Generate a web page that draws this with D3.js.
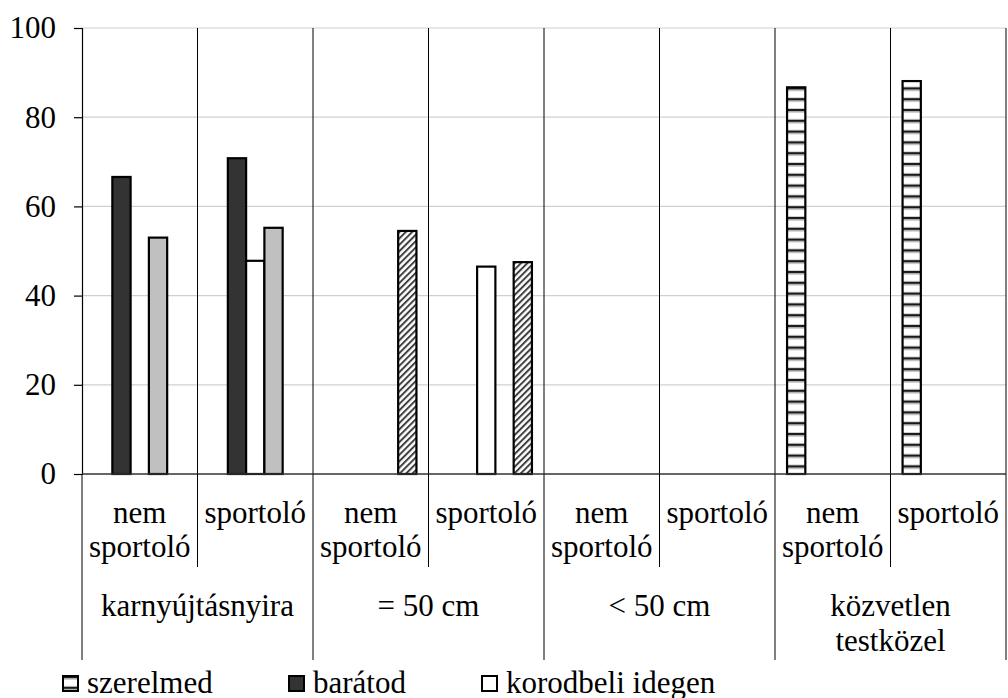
<!DOCTYPE html>
<html>
<head>
<meta charset="utf-8">
<script src="https://cdn.jsdelivr.net/npm/d3@7"></script>
<style>
  html, body { margin: 0; padding: 0; background: #fff; }
  svg { display: block; }
</style>
</head>
<body>
<svg id="chart" width="1008" height="698"></svg>
<script>
// ---- data ----
const groups = ["karnyújtásnyira", "= 50 cm", "< 50 cm", "közvetlen testközel"];
const subCategories = ["nem sportoló", "sportoló"];
const categories = ["c1", "c2", "c3", "c4", "c5", "c6", "c7", "c8"];
const categoryLabels = ["nem sportoló", "sportoló", "nem sportoló", "sportoló", "nem sportoló", "sportoló", "nem sportoló", "sportoló"];
const series = ["szerelmed", "barátod", "korodbeli idegen", "s4", "s5"];
const legendSeries = ["szerelmed", "barátod", "korodbeli idegen"];
const szerelmed = [null, null, null, null, null, null, 86.7, 88.1];
const baratod = [66.6, 70.8, null, null, null, null, null, null];
const korodbeli = [null, 47.8, null, 46.5, null, null, null, null];
const s4 = [53.0, 55.2, null, null, null, null, null, null];
const s5 = [null, null, 54.5, 47.5, null, null, null, null];
const seriesValues = [szerelmed, baratod, korodbeli, s4, s5];
const yTicks = [0, 20, 40, 60, 80, 100];

// ---- layout ----
const svg = d3.select("#chart");
const plotLeft = 82, plotRight = 1006, plotTop = 28, plotBottom = 474;
const FONT = 31;
const FAMILY = "Liberation Serif";

const x = d3.scaleBand().domain(categories).range([plotLeft, plotRight]).padding(0);
const xGroup = d3.scaleBand().domain(groups).range([plotLeft, plotRight]).padding(0);
const xInner = d3.scaleBand().domain(series).range([0, x.bandwidth()]).paddingInner(0).paddingOuter(0.66);
const y = d3.scaleLinear().domain([0, 100]).range([plotBottom, plotTop]);

// ---- patterns ----
const defs = svg.append("defs");
const pStripe = defs.append("pattern").attr("id", "stripe")
  .attr("patternUnits", "userSpaceOnUse").attr("width", 10).attr("height", 10.8)
  .attr("y", 1);
pStripe.append("rect").attr("width", 10).attr("height", 10.8).attr("fill", "#fff");
pStripe.append("rect").attr("y", 0).attr("width", 10).attr("height", 2).attr("fill", "#1a1a1a");
pStripe.append("rect").attr("y", 2).attr("width", 10).attr("height", 1.5).attr("fill", "#a8a8a8");
pStripe.append("rect").attr("y", 9.8).attr("width", 10).attr("height", 1).attr("fill", "#d0d0d0");

const pHatch = defs.append("pattern").attr("id", "hatch")
  .attr("patternUnits", "userSpaceOnUse").attr("width", 4.5).attr("height", 4.5)
  .attr("patternTransform", "rotate(45)");
pHatch.append("rect").attr("width", 4.5).attr("height", 4.5).attr("fill", "#fff");
pHatch.append("rect").attr("x", 0).attr("width", 2).attr("height", 4.5).attr("fill", "#404040");

const fills = {
  "szerelmed": "url(#stripe)",
  "barátod": "#333333",
  "korodbeli idegen": "#ffffff",
  "s4": "#c0c0c0",
  "s5": "url(#hatch)"
};

// ---- gridlines ----
svg.append("g").selectAll("line").data(yTicks.filter(d => d > 0)).join("line")
  .attr("x1", plotLeft).attr("x2", plotRight)
  .attr("y1", d => y(d)).attr("y2", d => y(d))
  .attr("stroke", "#d0d0d0").attr("stroke-width", 1.2);

// vertical category lines in plot area
svg.append("g").selectAll("line").data(categories).join("line")
  .attr("x1", d => x(d) + x.bandwidth()).attr("x2", d => x(d) + x.bandwidth())
  .attr("y1", plotTop).attr("y2", plotBottom)
  .attr("stroke", "#000").attr("stroke-width", 1);

// ---- bars ----
const barData = [];
series.forEach((s, si) => {
  seriesValues[si].forEach((v, ci) => {
    if (v !== null) barData.push({ s, c: categories[ci], v });
  });
});
svg.append("g").selectAll("rect").data(barData).join("rect")
  .attr("x", d => x(d.c) + xInner(d.s))
  .attr("y", d => y(d.v))
  .attr("width", xInner.bandwidth())
  .attr("height", d => y(0) - y(d.v))
  .attr("fill", d => fills[d.s])
  .attr("stroke", "#000").attr("stroke-width", 2.2);

// ---- axes ----
const yAxis = d3.axisLeft(y).tickValues(yTicks).tickSize(8).tickPadding(18).tickFormat(d3.format("d"));
const gy = svg.append("g").attr("transform", `translate(${plotLeft},0)`).call(yAxis)
  .attr("font-family", FAMILY).attr("font-size", FONT);
gy.select(".domain").attr("stroke", "#000").attr("stroke-width", 1.2);
gy.selectAll(".tick line").attr("stroke", "#000").attr("stroke-width", 1.2);
gy.selectAll(".tick text").attr("font-size", FONT).attr("font-family", FAMILY).attr("fill", "#000");

// x axis baseline
svg.append("line").attr("x1", plotLeft).attr("x2", plotRight).attr("y1", y(0)).attr("y2", y(0))
  .attr("stroke", "#333").attr("stroke-width", 1.5);

// category separator lines below axis
const boundaries = categories.map((c, i) => ({ x: x(c), isGroup: i % 2 === 0 }));
boundaries.push({ x: plotRight, isGroup: true });
svg.append("g").selectAll("line").data(boundaries).join("line")
  .attr("x1", d => d.x).attr("x2", d => d.x)
  .attr("y1", plotBottom).attr("y2", d => d.isGroup ? 660 : 567)
  .attr("stroke", "#000").attr("stroke-width", 1);

// category labels
svg.append("g").selectAll("text").data(categories).join("text")
  .attr("text-anchor", "middle").attr("font-size", FONT).attr("font-family", FAMILY).attr("fill", "#000")
  .each(function (c, i) {
    const words = categoryLabels[i].split(" ");
    const t = d3.select(this);
    words.forEach((w, wi) => {
      t.append("tspan").attr("x", x(c) + x.bandwidth() / 2).attr("y", 523 + wi * 34).text(w);
    });
  });

// group labels
const groupLines = { "karnyújtásnyira": ["karnyújtásnyira"], "= 50 cm": ["= 50 cm"], "< 50 cm": ["< 50 cm"], "közvetlen testközel": ["közvetlen", "testközel"] };
svg.append("g").selectAll("text").data(groups).join("text")
  .attr("text-anchor", "middle").attr("font-size", FONT).attr("font-family", FAMILY).attr("fill", "#000")
  .each(function (g) {
    const t = d3.select(this);
    groupLines[g].forEach((w, wi) => {
      t.append("tspan").attr("x", xGroup(g) + xGroup.bandwidth() / 2).attr("y", 616 + wi * 35).text(w);
    });
  });

// ---- legend ----
const legendX = [62, 288, 481];
const lg = svg.append("g").selectAll("g").data(legendSeries).join("g")
  .attr("transform", (d, i) => `translate(${legendX[i]},675)`);
lg.append("rect").attr("x", 1).attr("y", 1).attr("width", 15).attr("height", 15)
  .attr("fill", d => fills[d]).attr("stroke", "#000").attr("stroke-width", 2);
lg.append("text").attr("x", 25).attr("y", 17.5).attr("font-size", FONT).attr("font-family", FAMILY).attr("fill", "#000").text(d => d);
</script>
</body>
</html>
